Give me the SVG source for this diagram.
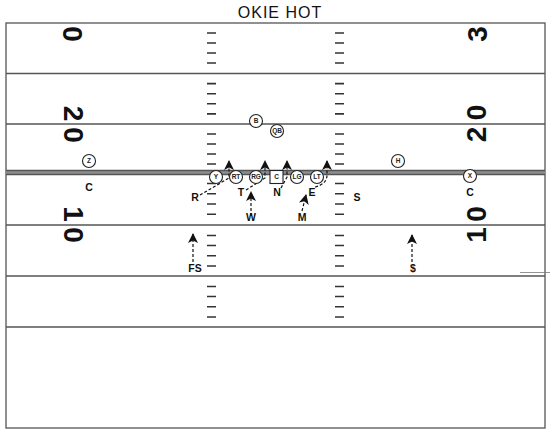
<svg xmlns="http://www.w3.org/2000/svg" width="550" height="432" viewBox="0 0 550 432">
<style>
.line{stroke:#555;stroke-width:1.3;fill:none}
.hash{stroke:#333;stroke-width:1.6}
.num{font-family:"Liberation Sans",Arial,sans-serif;font-weight:bold;font-size:28px;fill:#111;text-anchor:middle}
.pl circle{fill:#fff;stroke:#222;stroke-width:1.1}
.pl rect{fill:#fff;stroke:#222;stroke-width:1.1}
.pl text{font-family:"Liberation Sans",Arial,sans-serif;font-size:6.5px;font-weight:bold;text-anchor:middle;fill:#222}
.def{font-family:"Liberation Sans",Arial,sans-serif;font-weight:bold;font-size:10.5px;text-anchor:middle;fill:#111}
.rt{stroke:#111;stroke-width:1.2;stroke-dasharray:3,2;fill:none;marker-end:url(#ah)}
</style>
<defs>
<marker id="ah" viewBox="0 0 10 10" refX="9" refY="5" markerWidth="11" markerHeight="10" markerUnits="userSpaceOnUse" orient="auto">
<path d="M0,0 L10,5 L0,10 L2.5,5 z" fill="#111"/>
</marker>
</defs>
<rect width="550" height="432" fill="#fff"/>
<text x="280" y="18" font-family="Liberation Sans,Arial,sans-serif" font-size="16" letter-spacing="1" text-anchor="middle" fill="#111">OKIE HOT</text>

<g id="field">
<rect x="6" y="23" width="539" height="405" class="line"/>
<line x1="6" y1="73.5" x2="545" y2="73.5" class="line"/>
<line x1="6" y1="124" x2="545" y2="124" class="line"/>
<rect x="6" y="170.5" width="539" height="4" fill="#8e8e8e"/>
<line x1="6" y1="170.5" x2="545" y2="170.5" class="line"/>
<line x1="6" y1="174.5" x2="545" y2="174.5" class="line"/>
<line x1="6" y1="225" x2="545" y2="225" class="line"/>
<line x1="6" y1="276" x2="545" y2="276" class="line"/>
<line x1="6" y1="327" x2="545" y2="327" class="line"/>
<line x1="520" y1="272.5" x2="550" y2="272.5" stroke="#777" stroke-width="0.8"/>
</g>

<g id="hashes" class="hash">
<path d="M207,33h9M207,43h9M207,53h9M207,63h9M207,83.6h9M207,93.7h9M207,103.8h9M207,113.9h9M207,134h9M207,144h9M207,154h9M207,164h9M207,183.5h9M207,193.8h9M207,204h9M207,214.3h9M207,235.5h9M207,245.5h9M207,255.8h9M207,266h9M207,286.5h9M207,296.5h9M207,306.7h9M207,317h9"/>
<path d="M335,33h9M335,43h9M335,53h9M335,63h9M335,83.6h9M335,93.7h9M335,103.8h9M335,113.9h9M335,134h9M335,144h9M335,154h9M335,164h9M335,183.5h9M335,193.8h9M335,204h9M335,214.3h9M335,235.5h9M335,245.5h9M335,255.8h9M335,266h9M335,286.5h9M335,296.5h9M335,306.7h9M335,317h9"/>
</g>

<g id="numbers">
<text class="num" transform="translate(73,34) rotate(90)" y="10">0</text>
<text class="num" transform="translate(74,113.5) rotate(90)" y="10">2</text>
<text class="num" transform="translate(74,135) rotate(90)" y="10">0</text>
<text class="num" transform="translate(74,214) rotate(90)" y="10">1</text>
<text class="num" transform="translate(74,235) rotate(90)" y="10">0</text>
<text class="num" transform="translate(477,34) rotate(-90)" y="10">3</text>
<text class="num" transform="translate(476,112.5) rotate(-90)" y="10">0</text>
<text class="num" transform="translate(476,134.5) rotate(-90)" y="10">2</text>
<text class="num" transform="translate(476,214) rotate(-90)" y="10">0</text>
<text class="num" transform="translate(476,235) rotate(-90)" y="10">1</text>
</g>

<g id="connectors">
<path id="r-route" class="rt" d="M200,195 L229,178 L229,161"/>
<path id="t-route" class="rt" d="M246,190 L265,178 L265,161"/>
<path id="n-route" class="rt" d="M281,188 L287,177 L287,161"/>
<path id="e-route" class="rt" d="M315,187 Q327,184 327,175 L327,161"/>
<path id="w-route" class="rt" d="M251,216 L251,192"/>
<path id="m-route" class="rt" d="M302,211 L306,195"/>
<path id="fs-route" class="rt" d="M193,262 L193,234"/>
<path id="ss-route" class="rt" d="M412,262 L412,235"/>
</g>

<g id="B" class="pl"><circle cx="256" cy="121" r="6.5"/><text x="256" y="123.3">B</text></g>
<g id="QB" class="pl"><circle cx="277" cy="131" r="6.5"/><text x="277" y="133.3">QB</text></g>
<g id="Y" class="pl"><circle cx="216" cy="177" r="6.5"/><text x="216" y="179.3">Y</text></g>
<g id="RT" class="pl"><circle cx="236" cy="177" r="6.5"/><text x="236" y="179.3">RT</text></g>
<g id="RG" class="pl"><circle cx="256" cy="177" r="6.5"/><text x="256" y="179.3">RG</text></g>
<g id="C" class="pl"><rect x="270" y="170.5" width="13" height="13"/><text x="276.5" y="179.3">C</text></g>
<g id="LG" class="pl"><circle cx="297" cy="177" r="6.5"/><text x="297" y="179.3">LG</text></g>
<g id="LT" class="pl"><circle cx="317" cy="177" r="6.5"/><text x="317" y="179.3">LT</text></g>
<g id="Z" class="pl"><circle cx="89" cy="161" r="6.5"/><text x="89" y="163.3">Z</text></g>
<g id="H" class="pl"><circle cx="398" cy="161" r="6.5"/><text x="398" y="163.3">H</text></g>
<g id="X" class="pl"><circle cx="470" cy="176" r="6.5"/><text x="470" y="178.3">X</text></g>

<g id="def-CL"><text class="def" x="89" y="191">C</text></g>
<g id="def-R"><text class="def" x="195" y="201">R</text></g>
<g id="def-T"><text class="def" x="241" y="196">T</text></g>
<g id="def-N"><text class="def" x="277" y="196">N</text></g>
<g id="def-E"><text class="def" x="312" y="196">E</text></g>
<g id="def-S"><text class="def" x="357" y="201">S</text></g>
<g id="def-W"><text class="def" x="251" y="221">W</text></g>
<g id="def-M"><text class="def" x="302" y="221">M</text></g>
<g id="def-CR"><text class="def" x="470" y="196">C</text></g>
<g id="def-FS"><text class="def" x="195" y="272">FS</text></g>
<g id="def-SS"><text class="def" x="413" y="272">$</text></g>
</svg>
